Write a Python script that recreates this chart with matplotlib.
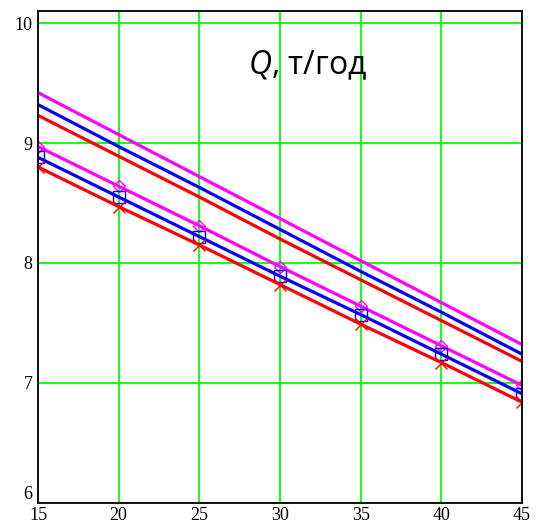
import matplotlib.pyplot as plt

plt.rcParams['mathtext.fontset'] = 'custom'
plt.rcParams['mathtext.it'] = 'Open Sans:italic'
plt.rcParams['mathtext.rm'] = 'Open Sans'

x = [15, 20, 25, 30, 35, 40, 45]

# upper group (plain lines)
q_mag_top = [9.42, 9.07, 8.72, 8.37, 8.02, 7.67, 7.32]
q_blue_top = [9.32, 8.97, 8.63, 8.28, 7.93, 7.59, 7.24]
q_red_top = [9.23, 8.89, 8.55, 8.20, 7.86, 7.52, 7.18]

# lower group (lines with markers)
q_mag_low = [8.97, 8.64, 8.31, 7.97, 7.64, 7.31, 6.98]
q_blue_low = [8.88, 8.55, 8.22, 7.89, 7.57, 7.24, 6.91]
q_red_low = [8.80, 8.47, 8.15, 7.82, 7.49, 7.17, 6.84]

xticks = [15, 20, 25, 30, 35, 40, 45]
yticks = [6, 7, 8, 9, 10]

fig = plt.figure(figsize=(5.39, 5.25), dpi=100)
ax = fig.add_axes([0.0705, 0.042, 0.898, 0.937])

lw = 2.3
ax.plot(x, q_mag_top, color='#ff00ff', lw=lw)
ax.plot(x, q_blue_top, color='#0000ff', lw=lw)
ax.plot(x, q_red_top, color='#ff0000', lw=lw)

ax.plot(x, q_mag_low, color='#ff00ff', lw=lw, marker='D', ms=6,
        mfc='none', mec='#ff00ff', mew=1.0)
ax.plot(x, q_blue_low, color='#0000ff', lw=lw, marker='s', ms=8,
        mfc='none', mec='#0000ff', mew=1.0)
ax.plot(x, q_red_low, color='#ff0000', lw=lw, marker='x', ms=8,
        mec='#ff0000', mew=1.0)

ax.set_xlim(15, 45)
ax.set_ylim(6, 10.1)
ax.set_xticks(xticks)
ax.set_yticks(yticks)
ax.grid(True, color='#00ff00', lw=1.3)
ax.set_axisbelow(True)
ax.tick_params(length=0, labelsize=13, pad=4)
ax.tick_params(axis='x', pad=3)
for lab in ax.get_xticklabels() + ax.get_yticklabels():
    lab.set_fontfamily('Liberation Serif')
# bottom y label sits above the corner like the original
ax.get_yticklabels()[0].set_verticalalignment('bottom')
for sp in ax.spines.values():
    sp.set_color('black')
    sp.set_linewidth(1.3)

ax.text(31.7, 9.65, r'$\mathit{Q}$, т/год', fontsize=23, family='Open Sans',
        ha='center', va='center')

fig.savefig('out.png', dpi=100)
